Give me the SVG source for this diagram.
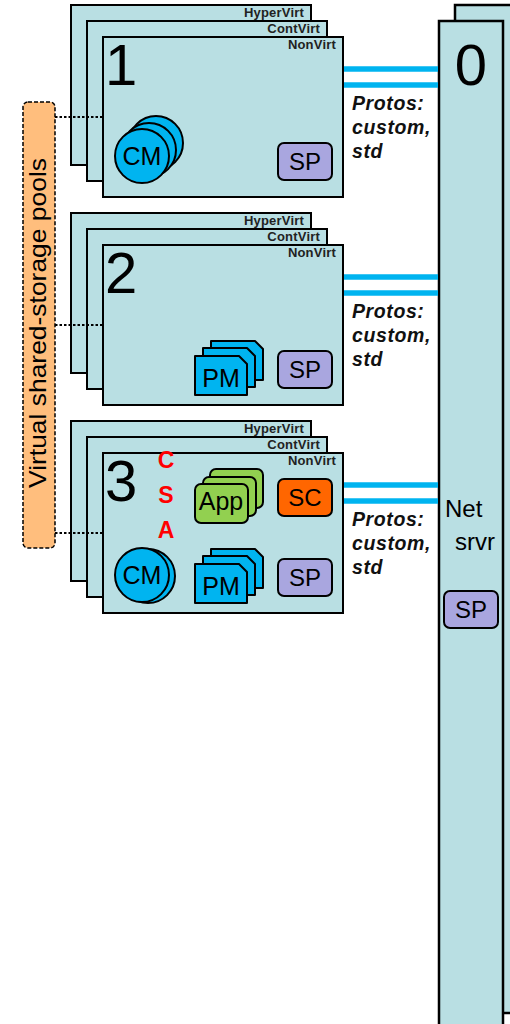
<svg xmlns="http://www.w3.org/2000/svg" xmlns:xlink="http://www.w3.org/1999/xlink" width="510" height="1024" viewBox="0 0 510 1024">
<style>
.box{fill:#b9dfe3;stroke:#000;stroke-width:2}
.srv{fill:#b9dfe3;stroke:#000;stroke-width:2.5}
.lay{font-family:"Liberation Sans",Arial,sans-serif;font-weight:bold;font-size:13px;letter-spacing:0.2px;text-anchor:end;fill:#222}
.dig{font-family:"Liberation Sans",Arial,sans-serif;font-size:58px;fill:#000}
.lbl{font-family:"Liberation Sans",Arial,sans-serif;font-size:24px;text-anchor:middle;fill:#000}
.lbs{font-family:"Liberation Sans",Arial,sans-serif;font-size:24px;text-anchor:start;fill:#000}
.cm{fill:#00b4f0;stroke:#000;stroke-width:2}
.pm{fill:#00b4f0;stroke:#000;stroke-width:2;stroke-linejoin:round}
.app{fill:#92d050;stroke:#000;stroke-width:2}
.sp{fill:#a9a6df;stroke:#000;stroke-width:2}
.sc{fill:#ff6600;stroke:#000;stroke-width:2}
.csa{font-family:"Liberation Sans",Arial,sans-serif;font-weight:bold;font-size:23px;text-anchor:middle;fill:#ff0000}
.dot{stroke:#000;stroke-width:2;stroke-dasharray:2.5,2;fill:none}
.net{stroke:#00b4f0;stroke-width:5.5;fill:none}
.pro{font-family:"Liberation Sans",Arial,sans-serif;font-weight:bold;font-style:italic;font-size:19.5px;letter-spacing:0.6px;fill:#111}
</style>
<defs>
<path id="pmCard" class="pm" d="M0,0 H44 L52,8 V39 H0 Z"/>
<rect id="appCard" class="app" width="53" height="39" rx="6"/>
<rect id="spBox" class="sp" width="54" height="37" rx="6"/>
</defs>

<g id="server">
<rect class="srv" x="455" y="5" width="70" height="1008"/>
<rect class="srv" x="439" y="21" width="64" height="1015"/>
<text class="dig" x="471" y="85" text-anchor="middle" style="text-anchor:middle">0</text>
<text class="lbs" x="445" y="517">Net</text>
<text class="lbs" x="455" y="550">srvr</text>
<use href="#spBox" x="444" y="591"/>
<text class="lbl" x="471" y="618" style="font-size:24px">SP</text>
</g>

<g id="pools">
<rect x="23" y="102" width="32" height="446" rx="5" fill="#ffbe7d" stroke="#000" stroke-width="1.5" stroke-dasharray="4,2"/>
<text transform="translate(46,323) rotate(-90)" x="0" y="0" text-anchor="middle" font-family="Liberation Sans, Arial, sans-serif" font-size="24" textLength="330" lengthAdjust="spacingAndGlyphs" fill="#000">Virtual shared-storage pools</text>
</g>

<g id="node1">
<rect class="box" x="71" y="5" width="240" height="160"/>
<text class="lay" x="304" y="17">HyperVirt</text>
<rect class="box" x="87" y="21" width="240" height="160"/>
<text class="lay" x="320" y="33">ContVirt</text>
<rect class="box" x="103" y="37" width="240" height="160"/>
<text class="lay" x="336" y="49">NonVirt</text>
<text class="dig" x="105" y="85">1</text>
<circle class="cm" cx="156" cy="143" r="27"/>
<circle class="cm" cx="149" cy="150" r="27"/>
<circle class="cm" cx="142" cy="156" r="27"/>
<text class="lbl" x="142" y="165" style="font-size:25px">CM</text>
<use href="#spBox" x="278" y="143"/>
<text class="lbl" x="305" y="170">SP</text>
</g>

<g id="node2">
<rect class="box" x="71" y="213" width="240" height="160"/>
<text class="lay" x="304" y="225">HyperVirt</text>
<rect class="box" x="87" y="229" width="240" height="160"/>
<text class="lay" x="320" y="241">ContVirt</text>
<rect class="box" x="103" y="245" width="240" height="160"/>
<text class="lay" x="336" y="257">NonVirt</text>
<text class="dig" x="105" y="293">2</text>
<use href="#pmCard" x="211" y="341"/>
<use href="#pmCard" x="203" y="348"/>
<use href="#pmCard" x="195" y="356"/>
<text class="lbl" x="221" y="387" style="font-size:25px">PM</text>
<use href="#spBox" x="278" y="351"/>
<text class="lbl" x="305" y="378">SP</text>
</g>

<g id="node3">
<rect class="box" x="71" y="421" width="240" height="160"/>
<text class="lay" x="304" y="433">HyperVirt</text>
<rect class="box" x="87" y="437" width="240" height="160"/>
<text class="lay" x="320" y="449">ContVirt</text>
<rect class="box" x="103" y="453" width="240" height="160"/>
<text class="lay" x="336" y="465">NonVirt</text>
<text class="dig" x="105" y="501">3</text>
<text class="csa" x="166" y="468">C</text>
<text class="csa" x="166" y="503">S</text>
<text class="csa" x="166" y="538">A</text>
<use href="#appCard" x="210" y="469"/>
<use href="#appCard" x="203" y="477"/>
<use href="#appCard" x="195" y="484"/>
<text class="lbl" x="221" y="510" style="font-size:25px">App</text>
<rect class="sc" x="278" y="479" width="54" height="37" rx="6"/>
<text class="lbl" x="305" y="506">SC</text>
<circle class="cm" cx="148" cy="576" r="27"/>
<circle class="cm" cx="142" cy="575" r="27"/>
<text class="lbl" x="142" y="584" style="font-size:25px">CM</text>
<use href="#pmCard" x="211" y="549"/>
<use href="#pmCard" x="203" y="556"/>
<use href="#pmCard" x="195" y="564"/>
<text class="lbl" x="221" y="595" style="font-size:25px">PM</text>
<use href="#spBox" x="278" y="559"/>
<text class="lbl" x="305" y="586">SP</text>
</g>

<g id="connectors">
<line class="dot" x1="55" y1="117" x2="103" y2="117"/>
<line class="dot" x1="55" y1="325" x2="103" y2="325"/>
<line class="dot" x1="55" y1="533" x2="103" y2="533"/>
<line class="net" x1="344" y1="69" x2="438" y2="69"/>
<line class="net" x1="344" y1="85" x2="438" y2="85"/>
<line class="net" x1="344" y1="277" x2="438" y2="277"/>
<line class="net" x1="344" y1="293" x2="438" y2="293"/>
<line class="net" x1="344" y1="485" x2="438" y2="485"/>
<line class="net" x1="344" y1="501" x2="438" y2="501"/>
<text class="pro" x="352" y="110">Protos:</text>
<text class="pro" x="352" y="134">custom,</text>
<text class="pro" x="352" y="158">std</text>
<text class="pro" x="352" y="318">Protos:</text>
<text class="pro" x="352" y="342">custom,</text>
<text class="pro" x="352" y="366">std</text>
<text class="pro" x="352" y="526">Protos:</text>
<text class="pro" x="352" y="550">custom,</text>
<text class="pro" x="352" y="574">std</text>
</g>
</svg>
